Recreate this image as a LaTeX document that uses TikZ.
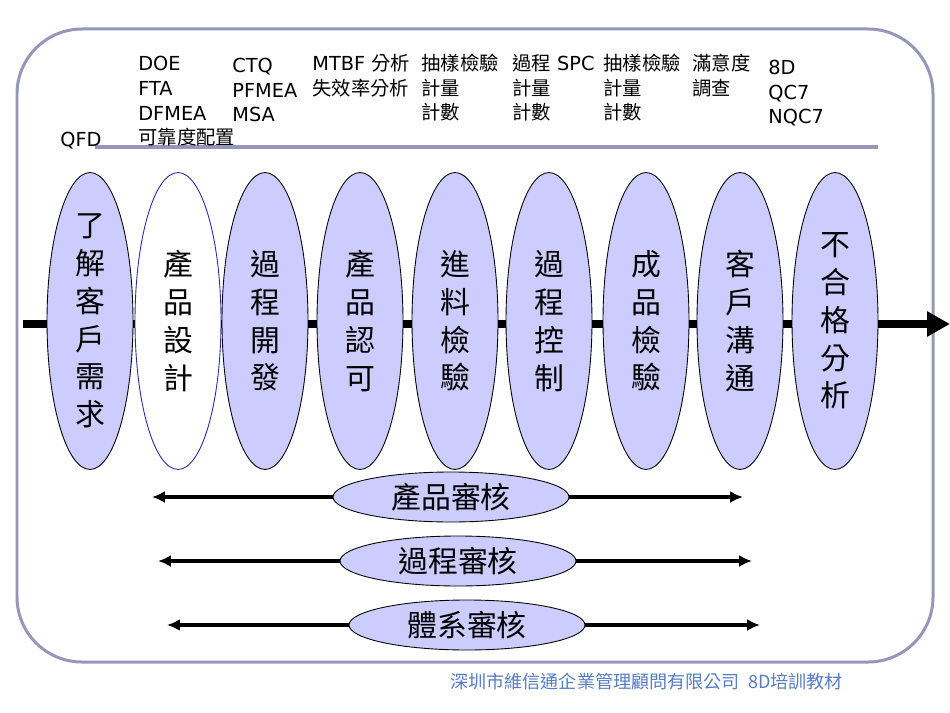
\documentclass[tikz,border=0pt]{standalone}
\usepackage{fontspec}
\setmainfont{DejaVu Sans}
\newfontfamily\cjk{Noto Sans CJK TC}
\usetikzlibrary{arrows.meta,shapes.geometric}
\definecolor{frameline}{RGB}{150,150,186}
\definecolor{stagefill}{RGB}{204,204,255}
\definecolor{openline}{RGB}{40,40,170}
\definecolor{footblue}{RGB}{85,125,195}
\newcommand{\zh}[1]{{\cjk #1}}

\tikzset{
  toptext/.style={anchor=base west,inner sep=0,align=left,font=\fontsize{11}{14.2}\selectfont},
  stage/.style={ellipse,draw=black,line width=0.5pt,fill=stagefill,minimum width=1.72cm,
    minimum height=5.94cm,inner sep=0,inner ysep=-0.4cm,align=center,
    font=\cjk\fontsize{17}{21.5}\selectfont},
  stageopen/.style={stage,fill=white,draw=openline},
  audit/.style={ellipse,draw=black,line width=0.5pt,fill=stagefill,minimum width=4.72cm,
    minimum height=1cm,inner sep=0,font=\cjk\fontsize{17}{20}\selectfont},
  audarrow/.style={line width=0.08cm,-{Latex[length=0.26cm,width=0.24cm]}},
  mainaxis/.style={line width=0.16cm,-{Triangle[length=0.46cm,width=0.48cm]}}
}

\begin{document}
\begin{tikzpicture}[x=0.02cm,y=-0.02cm]
\useasboundingbox (0,0) rectangle (950,713);
\draw[frameline,line width=0.06cm,rounded corners=1.3cm] (17,29) rectangle (933,662);
\draw[frameline,line width=0.07cm] (95,147) -- (878,147);

% anchors sit on the last line of each column
\node[toptext] (qfd) at (60,147) {QFD};
\node[toptext] (tools1) at (138,145) {DOE\\FTA\\DFMEA\\\zh{可靠度配置}};
\node[toptext] (tools2) at (232,122) {CTQ\\PFMEA\\MSA};
\node[toptext] (tools3) at (312,95) {MTBF \zh{分析}\\\zh{失效率分析}};
\node[toptext] (tools4) at (421,120) {\zh{抽樣檢驗}\\\zh{計量}\\\zh{計數}};
\node[toptext] (tools5) at (512,120) {\zh{過程} SPC\\\zh{計量}\\\zh{計數}};
\node[toptext] (tools6) at (603,120) {\zh{抽樣檢驗}\\\zh{計量}\\\zh{計數}};
\node[toptext] (tools7) at (692,95) {\zh{滿意度}\\\zh{調查}};
\node[toptext] (tools8) at (768,124) {8D\\QC7\\NQC7};

\coordinate (axisL) at (23,324);
\coordinate (axisR) at (950,324);
\draw[mainaxis] (axisL) -- (axisR);

\foreach \x/\s/\t [count=\i] in {90/stage/了\\解\\客\\戶\\需\\求, 178/stageopen/產\\品\\設\\計,
    265/stage/過\\程\\開\\發, 360/stage/產\\品\\認\\可, 455/stage/進\\料\\檢\\驗,
    549/stage/過\\程\\控\\制, 646/stage/成\\品\\檢\\驗, 740/stage/客\\戶\\溝\\通,
    835/stage/不\\合\\格\\分\\析}
  \node[\s] (stage\i) at (\x,321) {\t};

\foreach \x/\y/\l/\r/\t [count=\i] in {451/497/152/743/產品審核, 458/561/158/752/過程審核,
    467/625/167/760/體系審核} {
  \node[audit] (audit\i) at (\x,\y) {\t};
  \coordinate (audL\i) at (\l,\y);
  \coordinate (audR\i) at (\r,\y);
  \draw[audarrow] (audit\i) -- (audL\i);
  \draw[audarrow] (audit\i) -- (audR\i);
}

\node[anchor=base west,inner sep=0,text=footblue,font=\cjk\fontsize{10.3}{12}\selectfont]
  (footer) at (450,688) {深圳市維信通企業管理顧問有限公司~~8D培訓教材};
\end{tikzpicture}
\end{document}
